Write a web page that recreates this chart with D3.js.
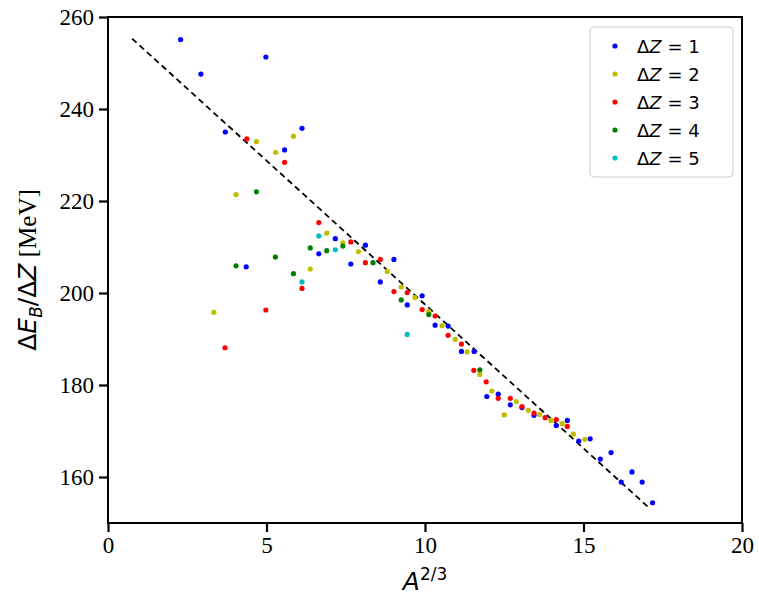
<!DOCTYPE html>
<meta charset="utf-8">
<style>
body { margin: 0; background: #fff; }
text { font-family: "Liberation Serif", serif; }
.tick text { font-family: "Liberation Serif", serif !important; font-size: 23px; }
</style>
<svg width="759" height="603"></svg>
<script src="https://d3js.org/d3.v7.min.js"></script>
<script>
// values: [A^(2/3), dE/dZ]
var dz1 = [[2.29,255.1],[2.93,247.6],[4.98,251.3],[3.70,235.0],[6.12,235.8],[5.57,231.1],[4.36,205.7],[6.65,208.5],[7.17,211.8],[7.66,206.3],[8.12,210.4],[8.59,202.4],[9.02,207.3],[9.44,197.4],[9.91,199.4],[10.32,193.0],[10.73,192.8],[11.15,187.3],[11.55,187.3],[11.95,177.5],[12.31,178.0],[12.69,175.7],[13.06,175.1],[13.44,173.4],[14.14,171.2],[14.49,172.3],[14.85,167.8],[15.21,168.3],[15.53,163.9],[15.87,165.3],[16.19,158.9],[16.53,161.1],[16.85,158.9],[17.18,154.4]];
var dz2 = [[4.68,232.9],[5.29,230.6],[5.85,234.1],[4.04,221.4],[3.34,195.8],[6.90,213.0],[7.41,210.9],[6.38,205.2],[7.90,209.0],[8.81,204.7],[9.25,201.3],[9.68,199.0],[10.12,196.0],[10.54,192.9],[10.95,189.9],[11.33,187.2],[11.73,182.3],[12.11,178.7],[12.50,173.5],[12.88,176.4],[13.26,174.5],[13.62,173.6],[13.97,172.3],[14.33,171.6],[14.68,169.3],[15.04,168.2]];
var dz3 = [[4.38,233.5],[5.57,228.4],[4.98,196.3],[3.69,188.1],[6.65,215.3],[6.12,201.0],[7.66,211.1],[8.12,206.6],[8.59,207.3],[9.02,200.3],[9.44,200.1],[9.91,196.4],[10.32,195.0],[10.73,190.8],[11.15,188.9],[11.54,183.2],[11.93,180.7],[12.31,177.1],[12.69,177.1],[13.06,175.3],[13.44,173.9],[13.79,172.9],[14.14,172.5],[14.49,171.0]];
var dz4 = [[4.68,222.0],[4.04,205.9],[5.28,207.8],[5.85,204.2],[6.38,209.8],[6.90,209.2],[7.41,210.2],[8.36,206.6],[9.25,198.5],[10.12,195.3],[11.73,183.3]];
var dz5 = [[6.65,212.4],[7.17,209.4],[6.12,202.4],[9.44,191.0]];
var fitLine = [[0.76,255.3],[17.1,153.1]];
var seriesNames = ["1","2","3","4","5"];
var seriesColors = ["#0000ff","#bfbf00","#ff0000","#008000","#00bfbf"];
var xTicks = [0,5,10,15,20];
var yTicks = [160,180,200,220,240,260];

var svg = d3.select("svg");
var margin = {top: 17, right: 17, bottom: 80, left: 108};
var width = 759 - margin.left - margin.right;
var height = 603 - margin.top - margin.bottom;
var g = svg.append("g").attr("transform", "translate(" + margin.left + "," + margin.top + ")");

var x = d3.scaleLinear().domain([0, 20]).range([0, width]);
var y = d3.scaleLinear().domain([150, 260]).range([height, 0]);

var xAxis = g.append("g").attr("transform", "translate(0," + height + ")")
    .call(d3.axisBottom(x).tickValues(xTicks).tickSize(9).tickPadding(5));
var yAxis = g.append("g")
    .call(d3.axisLeft(y).tickValues(yTicks).tickSize(9).tickPadding(5));
[xAxis, yAxis].forEach(function(a) {
    a.attr("font-family", null).attr("font-size", null);
    a.select(".domain").remove();
    a.selectAll("line").attr("stroke-width", 2.2);
    a.selectAll("text").attr("fill", "#000");
});

g.append("rect").attr("width", width).attr("height", height)
    .attr("fill", "none").attr("stroke", "#000").attr("stroke-width", 2);

g.append("path").datum(fitLine)
    .attr("fill", "none").attr("stroke", "#000").attr("stroke-width", 1.8)
    .attr("stroke-dasharray", "6,4")
    .attr("d", d3.line().x(function(d) { return x(d[0]); }).y(function(d) { return y(d[1]); }));

[dz1, dz2, dz3, dz4, dz5].forEach(function(s, i) {
    g.append("g").selectAll("circle").data(s).enter().append("circle")
        .attr("cx", function(d) { return x(d[0]); })
        .attr("cy", function(d) { return y(d[1]); })
        .attr("r", 2.6).attr("fill", seriesColors[i]);
});

// legend
var lg = g.append("g").attr("transform", "translate(" + (width - 152) + ",10)");
lg.append("rect").attr("width", 143).attr("height", 150).attr("rx", 4)
    .attr("fill", "#fff").attr("stroke", "#ccc");
seriesNames.forEach(function(n, i) {
    var row = lg.append("g").attr("transform", "translate(0," + (19 + i * 28) + ")");
    row.append("circle").attr("cx", 25).attr("cy", 0).attr("r", 2.6).attr("fill", seriesColors[i]);
    var t = row.append("text").attr("x", 47).attr("y", 7).attr("font-size", 18)
        .style("font-family", "DejaVu Sans, sans-serif");
    t.append("tspan").text("\u0394");
    t.append("tspan").attr("font-style", "italic").text("Z");
    t.append("tspan").text(" = " + n);
});

// axis labels
var xl = svg.append("text").attr("x", margin.left + width / 2).attr("y", 590)
    .attr("text-anchor", "middle").attr("font-size", 25).style("font-family", "DejaVu Sans, sans-serif");
xl.append("tspan").attr("font-style", "italic").text("A");
xl.append("tspan").attr("font-size", 17).attr("dy", -10).text("2/3");

var yl = svg.append("text").attr("transform", "translate(36," + (margin.top + height / 2) + ") rotate(-90)")
    .attr("text-anchor", "middle").attr("font-size", 25).style("font-family", "DejaVu Sans, sans-serif");
yl.append("tspan").text("\u0394");
yl.append("tspan").attr("font-style", "italic").text("E");
yl.append("tspan").attr("font-style", "italic").attr("font-size", 17).attr("dy", 6).text("B");
yl.append("tspan").attr("dy", -6).text("/\u0394");
yl.append("tspan").attr("font-style", "italic").text("Z");
yl.append("tspan").text(" [MeV]").style("font-family", "Liberation Serif, serif");
</script>
